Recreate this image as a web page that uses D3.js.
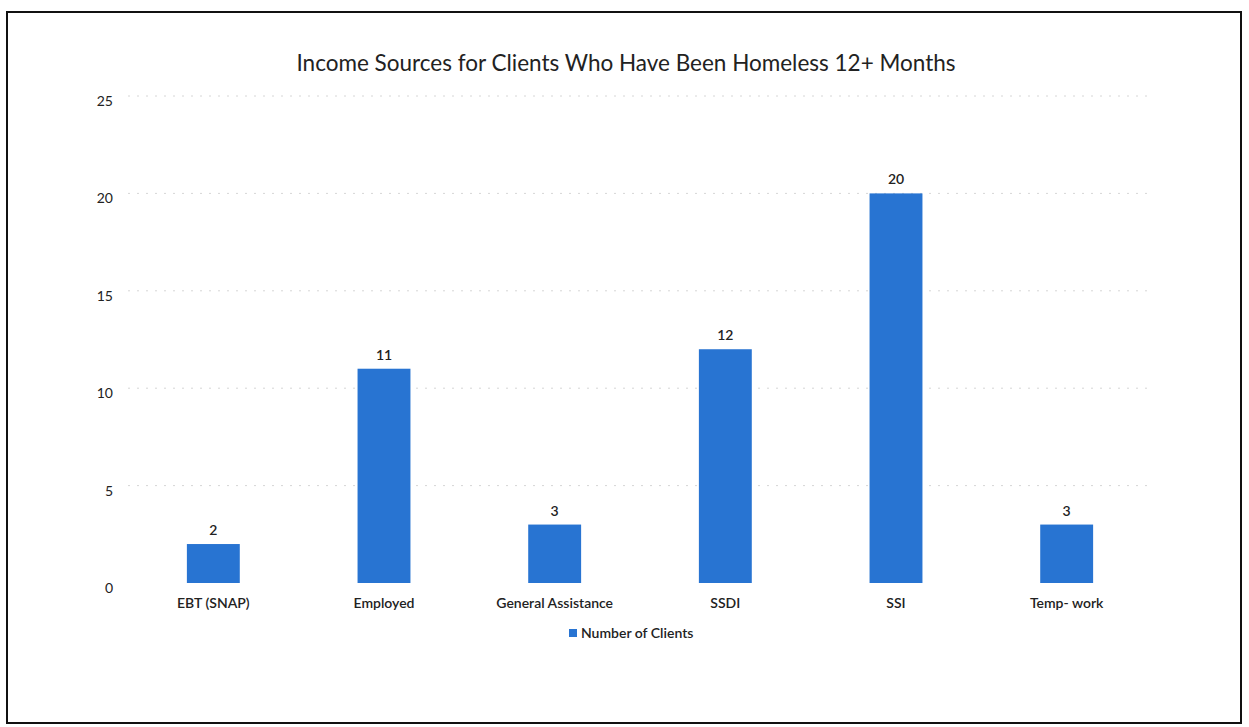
<!DOCTYPE html>
<html><head><meta charset="utf-8">
<script src="https://cdn.jsdelivr.net/npm/d3@7"></script>
<style>body{margin:0;background:#fff}</style>
</head><body>
<svg id="chart" width="1249" height="727"></svg>
<script>
const categories = ["EBT (SNAP)", "Employed", "General Assistance", "SSDI", "SSI", "Temp- work"];
const values = [2, 11, 3, 12, 20, 3];
const yTicks = [0, 5, 10, 15, 20, 25];
const seriesName = "Number of Clients";
const title = "Income Sources for Clients Who Have Been Homeless 12+ Months";

const svg = d3.select("#chart");
const font = "Lato, 'Open Sans', sans-serif";
const barColor = "#2874d2";

// frame
svg.append("rect").attr("x", 7).attr("y", 12).attr("width", 1234).attr("height", 711)
  .attr("fill", "#fff").attr("stroke", "#111").attr("stroke-width", 2);

const x = d3.scaleBand().domain(categories).range([128, 1152]).paddingInner(0.69).paddingOuter(0.345);
const y = d3.scaleLinear().domain([0, 25]).range([583, 96]);

// gridlines
svg.append("g").selectAll("line").data(yTicks.filter(d => d > 0)).join("line")
  .attr("x1", 128).attr("x2", 1152)
  .attr("y1", d => y(d)).attr("y2", d => y(d))
  .attr("stroke", "#d6d6d6").attr("stroke-width", 1).attr("stroke-dasharray", "2,7");

// y axis labels
const yAxis = d3.axisLeft(y).tickValues(yTicks).tickSize(0).tickPadding(0);
const yg = svg.append("g").attr("transform", "translate(113,5)").call(yAxis);
yg.select(".domain").remove();
yg.selectAll("text").attr("font-family", font).attr("font-size", 14).attr("fill", "#222");

// bars
svg.append("g").selectAll("rect").data(values).join("rect")
  .attr("x", (d, i) => x(categories[i]))
  .attr("y", d => y(d))
  .attr("width", x.bandwidth())
  .attr("height", d => y(0) - y(d))
  .attr("fill", barColor);

// value labels
svg.append("g").selectAll("text").data(values).join("text")
  .attr("x", (d, i) => x(categories[i]) + x.bandwidth() / 2)
  .attr("y", d => y(d) - 9)
  .attr("text-anchor", "middle")
  .attr("font-family", font).attr("font-size", 14).attr("font-weight", 600).attr("fill", "#222")
  .text(d => d);

// x axis labels
const xAxis = d3.axisBottom(x).tickSize(0).tickPadding(0);
const xg = svg.append("g").attr("transform", "translate(0,598)").call(xAxis);
xg.select(".domain").remove();
xg.selectAll("text").attr("font-family", font).attr("font-size", 14).attr("font-weight", 600).attr("fill", "#222");

// title
svg.append("text").attr("x", 626).attr("y", 71).attr("text-anchor", "middle")
  .attr("font-family", font).attr("font-size", 22.5).attr("fill", "#222").text(title);

// legend
const lg = svg.append("g").attr("transform", "translate(569,629)");
lg.append("rect").attr("x", 0).attr("y", 0).attr("width", 8).attr("height", 8).attr("fill", barColor);
lg.append("text").attr("x", 12).attr("y", 9).attr("font-family", font).attr("font-size", 14)
  .attr("font-weight", 600).attr("fill", "#222").text(seriesName);
</script>
</body></html>
